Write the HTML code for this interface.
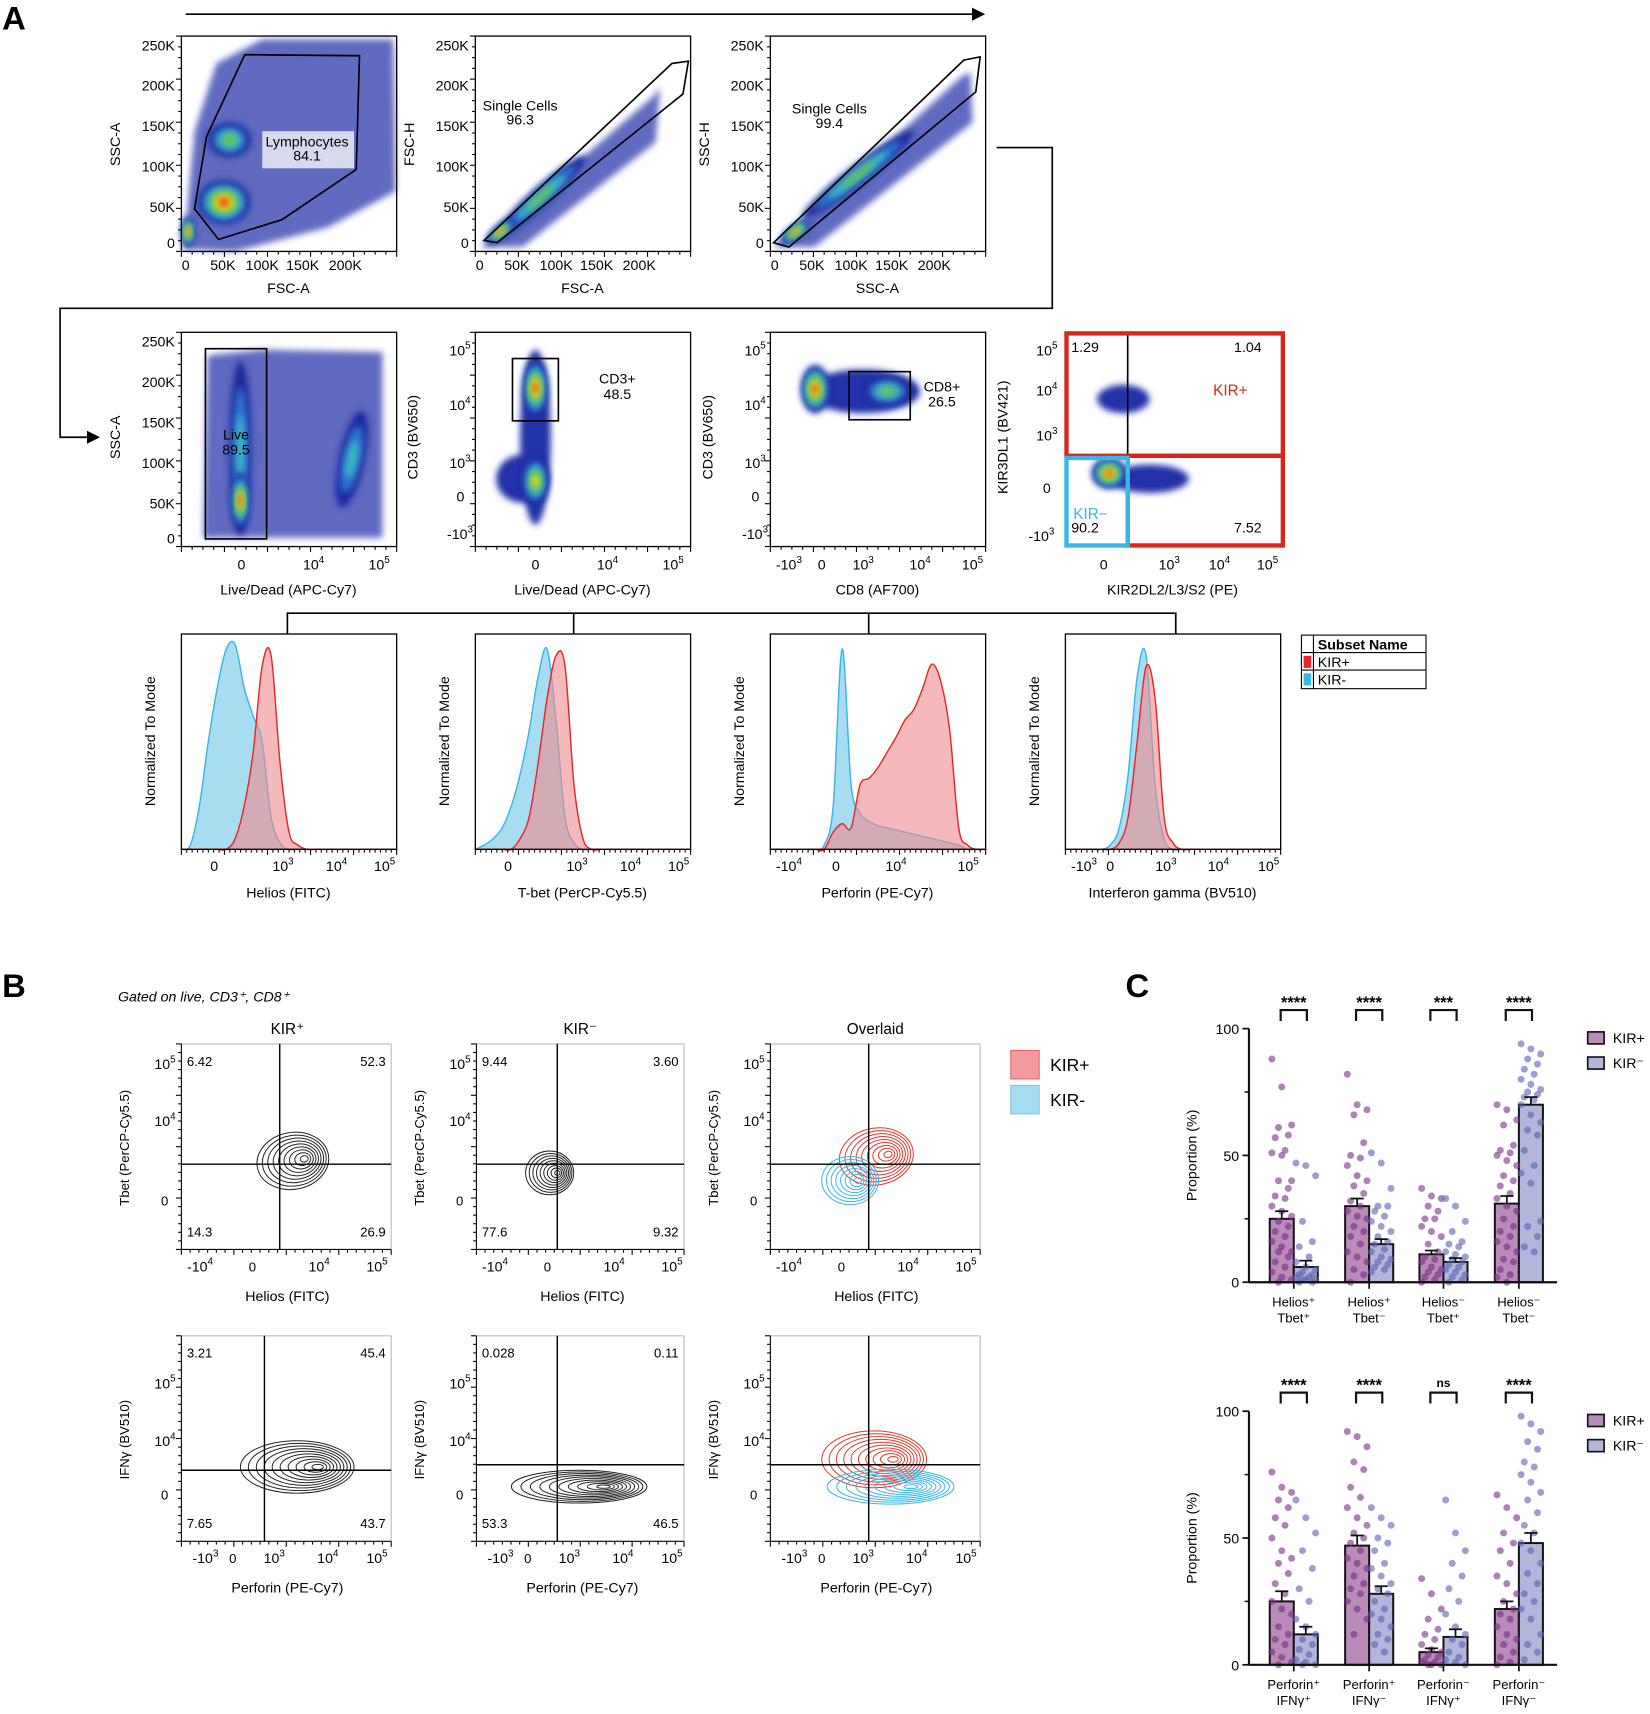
<!DOCTYPE html>
<html><head><meta charset="utf-8"><style>
html,body{margin:0;padding:0;background:#fff}
svg{display:block;font-family:"Liberation Sans",Arial,sans-serif}
</style></head><body>
<svg id="fig" xmlns="http://www.w3.org/2000/svg" width="1650" height="1714" viewBox="0 0 1510 1568" preserveAspectRatio="none">
<defs>
<filter id="bl" x="-50%" y="-50%" width="200%" height="200%"><feGaussianBlur stdDeviation="3"/></filter>
<marker id="ah" markerWidth="8" markerHeight="8" refX="7" refY="4" orient="auto"><path d="M0,0 L8,4 L0,8 z" fill="#000"/></marker>
</defs>
<g>
<text x="2" y="27" font-size="30" font-weight="bold">A</text>
<line x1="170" y1="13" x2="900" y2="13" stroke="#000" stroke-width="1.5" marker-end="url(#ah)"/>
<polyline points="912,135 963,135 963,282 55,282 55,400 90,400" fill="none" stroke="#000" stroke-width="1.5" marker-end="url(#ah)"/>
<polyline points="263,580 263,561 1076,561 1076,580" fill="none" stroke="#000" stroke-width="1.5"/>
<line x1="525" y1="561" x2="525" y2="580" stroke="#000" stroke-width="1.5"/>
<line x1="795" y1="561" x2="795" y2="580" stroke="#000" stroke-width="1.5"/>
</g>
<g id="dyn"></g>
<g font-size="13">
<rect x="1191" y="581" width="114" height="49" fill="#fff" stroke="#000"/>
<line x1="1191" y1="597" x2="1305" y2="597" stroke="#000"/><line x1="1191" y1="613" x2="1305" y2="613" stroke="#000"/>
<line x1="1202" y1="581" x2="1202" y2="630" stroke="#000"/>
<text x="1206" y="594" font-weight="bold">Subset Name</text>
<rect x="1193" y="600" width="7" height="11" fill="#e8252a"/><text x="1206" y="610">KIR+</text>
<rect x="1193" y="616" width="7" height="11" fill="#38b6e8"/><text x="1206" y="626">KIR-</text>
</g>
<g>
<text x="2" y="912" font-size="30" font-weight="bold">B</text>
<text x="108" y="916" font-size="13" font-style="italic">Gated on live, CD3⁺, CD8⁺</text>
<text x="263" y="946" font-size="14" text-anchor="middle">KIR⁺</text>
<text x="531" y="946" font-size="14" text-anchor="middle">KIR⁻</text>
<text x="801" y="946" font-size="14" text-anchor="middle">Overlaid</text>
<g>
<rect x="925" y="961" width="26" height="26" fill="#f29a9d" stroke="#e8646a"/><text x="961" y="980" font-size="16">KIR+</text>
<rect x="925" y="993" width="26" height="26" fill="#a6dcef" stroke="#7cc8e6"/><text x="961" y="1012" font-size="16">KIR-</text>
</g>
</g>
<g>
<text x="1030" y="912" font-size="30" font-weight="bold">C</text>
</g>
</svg>
<script>
const NS='http://www.w3.org/2000/svg';
const root=document.getElementById('dyn');
function mk(tag,a,p){const e=document.createElementNS(NS,tag);for(const k in a)e.setAttribute(k,a[k]);(p||root).appendChild(e);return e;}
function txt(x,y,s,sz,anchor,p,rot){const t=mk('text',{x:x,y:y,'font-size':sz||13,'text-anchor':anchor||'middle'},p);if(rot)t.setAttribute('transform','rotate(-90 '+x+' '+y+')');t.textContent=s;return t;}
function sup(x,y,base,exp,p){const t=mk('text',{x:x,y:y,'font-size':13,'text-anchor':'middle'},p);t.textContent=base;const s=mk('tspan',{dy:-6,'font-size':9},t);s.textContent=exp;return t;}
const DCOL=['#1f2c9e','#2f72cc','#3ab8c4','#6cc24a','#f2e21c','#e8351c'];
function blob(p,cx,cy,rx,ry,rot,lv){for(let k=0;k<lv;k++){const f=1-k/(lv+0.3);mk('ellipse',{cx:cx,cy:cy,rx:rx*f,ry:ry*f,fill:DCOL[k],transform:'rotate('+rot+' '+cx+' '+cy+')',filter:'url(#bl)'},p);}}
function frame(x,y,w,h,p){const r=mk('rect',{x:x,y:y,width:w,height:h,fill:'none',stroke:'#000','stroke-width':1.2},p);
 for(let i=0;i<=20;i++){mk('line',{x1:x+i*w/20,y1:y+h,x2:x+i*w/20,y2:y+h+(i%4==0?5:3),stroke:'#000'},p);mk('line',{x1:x,y1:y+i*h/20,x2:x-(i%4==0?5:3),y2:y+i*h/20,stroke:'#000'},p);}}

const lin=['0','50K','100K','150K','200K'];const linY=['250K','200K','150K','100K','50K','0'];
function linAxes(x0,g,xl,yl){const xs=[4,38,74,111,150];lin.forEach((s,i)=>txt(x0+xs[i],247,s,13,'middle',g));
 const ys=[46,83,120,157,194,227];linY.forEach((s,i)=>txt(x0-6,ys[i],s,13,'end',g));
 txt(x0+98,268,xl,13,'middle',g);txt(x0-56,132,yl,13,'middle',g,true);}
let g1=mk('g',{});
mk('path',{d:'M168,228 L178,120 L198,58 L240,36 L360,36 L362,175 L300,208 L215,230 Z',fill:'#2233a8',opacity:0.72,filter:'url(#bl)'},g1);
blob(g1,210,128,20,16,0,4);blob(g1,205,185,24,20,0,6);blob(g1,172,212,6,14,0,6);
mk('rect',{x:240,y:120,width:84,height:34,fill:'#fff',opacity:0.75},g1);
mk('polygon',{points:'224,50 329,51 326,155 258,201 200,219 178,191 189,125',fill:'none',stroke:'#000','stroke-width':1.5},g1);
txt(281,134,'Lymphocytes',13,'middle',g1);txt(281,147,'84.1',13,'middle',g1);
frame(166,33,197,197,g1);linAxes(166,g1,'FSC-A','SSC-A');

let g2=mk('g',{});
mk('polygon',{points:'440,226 455,212 598,88 604,80 600,130 478,226',fill:'#2233a8',opacity:0.72,filter:'url(#bl)'},g2);
blob(g2,495,180,55,9,-42,4);blob(g2,458,212,16,6,-40,6);
mk('polygon',{points:'443,220 615,58 630,56 625,86 455,222',fill:'none',stroke:'#000','stroke-width':1.5},g2);
txt(476,101,'Single Cells',13,'middle',g2);txt(476,114,'96.3',13,'middle',g2);
frame(435,33,197,197,g2);linAxes(435,g2,'FSC-A','FSC-H');

let g3=mk('g',{});
mk('polygon',{points:'707,226 722,214 880,70 888,66 890,112 745,226',fill:'#2233a8',opacity:0.72,filter:'url(#bl)'},g3);
blob(g3,785,160,65,9,-38,4);blob(g3,728,212,16,6,-38,6);
mk('polygon',{points:'708,222 882,55 897,52 893,84 722,226',fill:'none',stroke:'#000','stroke-width':1.5},g3);
txt(759,104,'Single Cells',13,'middle',g3);txt(759,117,'99.4',13,'middle',g3);
frame(705,33,197,197,g3);linAxes(705,g3,'SSC-A','SSC-H');

let g4=mk('g',{});
mk('path',{d:'M186,492 L190,325 L240,320 L350,322 L350,492 Z',fill:'#2233a8',opacity:0.72,filter:'url(#bl)'},g4);
blob(g4,220,410,10,80,0,3);blob(g4,220,458,8,26,0,6);blob(g4,322,420,12,45,12,3);
mk('rect',{x:188,y:319,width:56,height:174,fill:'none',stroke:'#000','stroke-width':1.5},g4);
txt(216,402,'Live',13,'middle',g4);txt(216,416,'89.5',13,'middle',g4);
frame(166,304,197,196,g4);
[['250K',317],['200K',354],['150K',391],['100K',428],['50K',465],['0',497]].forEach(a=>txt(160,a[1],a[0],13,'end',g4));
txt(221,521,'0',13,'middle',g4);sup(287,521,'10','4',g4);sup(347,521,'10','5',g4);
txt(264,544,'Live/Dead (APC-Cy7)',13,'middle',g4);txt(110,400,'SSC-A',13,'middle',g4,true);

function logY(g,x){sup(x-14,325,'10','5',g);sup(x-14,375,'10','4',g);sup(x-14,428,'10','3',g);txt(x-10,459,'0',13,'end',g);sup(x-14,493,'-10','3',g);}
let g5=mk('g',{});
mk('ellipse',{cx:490,cy:400,rx:14,ry:80,fill:'#2233a8',filter:'url(#bl)'},g5);mk('ellipse',{cx:478,cy:438,rx:24,ry:22,fill:'#2233a8',filter:'url(#bl)'},g5);
blob(g5,490,355,11,26,0,6);blob(g5,490,440,12,22,0,5);
mk('rect',{x:469,y:328,width:42,height:57,fill:'none',stroke:'#000','stroke-width':1.5},g5);
txt(565,351,'CD3+',13,'middle',g5);txt(565,365,'48.5',13,'middle',g5);
frame(435,304,197,196,g5);logY(g5,435);
txt(490,521,'0',13,'middle',g5);sup(556,521,'10','4',g5);sup(616,521,'10','5',g5);
txt(533,544,'Live/Dead (APC-Cy7)',13,'middle',g5);txt(382,400,'CD3 (BV650)',13,'middle',g5,true);

let g6=mk('g',{});
mk('ellipse',{cx:790,cy:358,rx:52,ry:20,fill:'#2233a8',filter:'url(#bl)'},g6);
blob(g6,746,356,13,22,0,6);blob(g6,812,358,22,13,0,4);
mk('rect',{x:777,y:340,width:56,height:44,fill:'none',stroke:'#000','stroke-width':1.5},g6);
txt(862,358,'CD8+',13,'middle',g6);txt(862,372,'26.5',13,'middle',g6);
frame(705,304,197,196,g6);logY(g6,705);
sup(722,521,'-10','3',g6);txt(752,521,'0',13,'middle',g6);sup(790,521,'10','3',g6);sup(842,521,'10','4',g6);sup(890,521,'10','5',g6);
txt(803,544,'CD8 (AF700)',13,'middle',g6);txt(652,400,'CD3 (BV650)',13,'middle',g6,true);

let g7=mk('g',{});
mk('ellipse',{cx:1028,cy:365,rx:24,ry:13,fill:'#2233a8',filter:'url(#bl)'},g7);
mk('ellipse',{cx:1052,cy:438,rx:36,ry:13,fill:'#2233a8',filter:'url(#bl)'},g7);
blob(g7,1015,433,16,14,0,6);
mk('line',{x1:1032,y1:304,x2:1032,y2:500,stroke:'#000','stroke-width':1.5},g7);mk('line',{x1:975,y1:417,x2:1175,y2:417,stroke:'#000','stroke-width':1.5},g7);
let q1=mk('rect',{x:976,y:305,width:198,height:112,fill:'none',stroke:'#d8261c','stroke-width':4},g7);
mk('rect',{x:1032,y:417,width:142,height:82,fill:'none',stroke:'#d8261c','stroke-width':4},g7);
let q2=mk('rect',{x:976,y:419,width:56,height:80,fill:'none',stroke:'#38b6e8','stroke-width':4},g7);
txt(993,322,'1.29',13,'middle',g7);txt(1142,322,'1.04',13,'middle',g7);txt(1142,487,'7.52',13,'middle',g7);txt(993,487,'90.2',13,'middle',g7);
let kp=txt(1126,362,'KIR+',14,'middle',g7);kp.setAttribute('fill','#d8261c');let km=txt(998,475,'KIR−',14,'middle',g7);km.setAttribute('fill','#38b6e8');
sup(958,325,'10','5',g7);sup(958,362,'10','4',g7);sup(958,403,'10','3',g7);txt(958,451,'0',13,'middle',g7);sup(953,495,'-10','3',g7);
txt(1010,521,'0',13,'middle',g7);sup(1070,521,'10','3',g7);sup(1116,521,'10','4',g7);sup(1160,521,'10','5',g7);
txt(1073,544,'KIR2DL2/L3/S2 (PE)',13,'middle',g7);txt(922,400,'KIR3DL1 (BV421)',13,'middle',g7,true);

const heliosPlus=[0,0,0,0,0,0,0.05,0.2,0.45,0.85,0.9,0.4,0.08,0.02,0,0,0,0,0,0,0,0,0,0,0];
const heliosMinus=[0,0.02,0.2,0.5,0.75,0.93,0.95,0.75,0.62,0.5,0.15,0.03,0,0,0,0,0,0,0,0,0,0,0,0,0];
const tbetPlus=[0,0,0,0,0,0.05,0.15,0.4,0.7,0.9,0.85,0.3,0.05,0,0,0,0,0,0,0,0,0,0,0,0];
const tbetMinus=[0,0.02,0.05,0.1,0.2,0.35,0.55,0.8,0.93,0.6,0.15,0.03,0,0,0,0,0,0,0,0,0,0,0,0,0];
const perfPlus=[0,0,0,0,0,0,0,0.08,0.12,0.1,0.3,0.33,0.38,0.45,0.52,0.6,0.65,0.75,0.86,0.78,0.55,0.1,0.02,0,0];
const perfMinus=[0,0,0,0,0,0,0.02,0.2,0.93,0.3,0.17,0.13,0.11,0.1,0.09,0.08,0.07,0.06,0.05,0.04,0.03,0.02,0,0,0];
const ifnPlus=[0,0,0,0,0,0,0.03,0.15,0.5,0.85,0.7,0.15,0.03,0,0,0,0,0,0,0,0,0,0,0,0];
const ifnMinus=[0,0,0,0,0,0.02,0.1,0.35,0.8,0.9,0.3,0.05,0,0,0,0,0,0,0,0,0,0,0,0,0];
function histPath(x0,y0,w,h,arr){let d='M'+x0+','+(y0+h);const n=arr.length-1;const pts=arr.map((v,i)=>[x0+i*w/n,y0+h-v*h]);
 for(let i=0;i<pts.length;i++){const p0=pts[Math.max(0,i-1)],p1=pts[i],p2=pts[Math.min(n,i+1)];if(i==0){d+=' L'+p1[0]+','+p1[1];continue;}
 const pm=pts[Math.max(0,i-2)];const c1=[p0[0]+(p1[0]-pm[0])/6,p0[1]+(p1[1]-pm[1])/6],c2=[p1[0]-(p2[0]-p0[0])/6,p1[1]-(p2[1]-p0[1])/6];d+=' C'+c1+' '+c2+' '+p1;}
 return d+' L'+(x0+w)+','+(y0+h)+' Z';}
function hist(x0,name,plus,minus,xlab,ticks){const g=mk('g',{});
 const y0=580,w=197,h=197;
 const b=mk('path',{d:histPath(x0,y0,w,h,minus),fill:'#9fd8ef',stroke:'#38b6e8','stroke-width':1.3,'fill-opacity':0.9},g);
 const r=mk('path',{d:histPath(x0,y0,w,h,plus),fill:'#f08a8e',stroke:'#e8252a','stroke-width':1.3,'fill-opacity':0.6},g);
 mk('rect',{x:x0,y:y0,width:w,height:h,fill:'none',stroke:'#000','stroke-width':1.2},g);
 for(let i=0;i<=40;i++)mk('line',{x1:x0+i*w/40,y1:y0+h,x2:x0+i*w/40,y2:y0+h+(i%8==0?5:3),stroke:'#000'},g);
 ticks.forEach(t=>{if(t[2])sup(x0+t[0],797,t[1],t[2],g);else txt(x0+t[0],797,t[1],13,'middle',g);});
 txt(x0+98,821,xlab,13,'middle',g);txt(x0-24,678,'Normalized To Mode',13,'middle',g,true);}
hist(166,'helios-histogram',heliosPlus,heliosMinus,'Helios (FITC)',[[30,'0'],[93,'10','3'],[142,'10','4'],[186,'10','5']]);
hist(435,'tbet-histogram',tbetPlus,tbetMinus,'T-bet (PerCP-Cy5.5)',[[30,'0'],[93,'10','3'],[142,'10','4'],[186,'10','5']]);
hist(705,'perforin-histogram',perfPlus,perfMinus,'Perforin (PE-Cy7)',[[17,'-10','4'],[60,'0'],[115,'10','4'],[181,'10','5']]);
hist(975,'ifng-histogram',ifnPlus,ifnMinus,'Interferon gamma (BV510)',[[17,'-10','3'],[41,'0'],[92,'10','3'],[140,'10','4'],[186,'10','5']]);

function contours(g,cx,cy,rx,ry,n,col,rot){for(let k=0;k<n;k++){const f=1-k/n;mk('ellipse',{cx:cx+k*rx*0.04,cy:cy,rx:rx*f,ry:ry*f,fill:'none',stroke:col,'stroke-width':0.9,transform:'rotate('+rot+' '+cx+' '+cy+')'},g);}}
function cplot(x0,y0,name,qx,qy,nums,cs,top){const g=mk('g',{});
 cs.forEach(c=>contours(g,c[0],c[1],c[2],c[3],c[4],c[5],c[6]||0));
 const w=(x0>400&&x0<600?190:192),h=188;
 mk('line',{x1:x0,y1:y0,x2:x0+w,y2:y0,stroke:'#bbb'},g);mk('line',{x1:x0+w,y1:y0,x2:x0+w,y2:y0+h,stroke:'#bbb'},g);
 mk('line',{x1:x0,y1:y0,x2:x0,y2:y0+h,stroke:'#000'},g);mk('line',{x1:x0,y1:y0+h,x2:x0+w,y2:y0+h,stroke:'#000'},g);
 for(let i=0;i<=24;i++){mk('line',{x1:x0+i*w/24,y1:y0+h,x2:x0+i*w/24,y2:y0+h+(i%6==0?5:3),stroke:'#000'},g);mk('line',{x1:x0,y1:y0+i*h/24,x2:x0-(i%6==0?5:3),y2:y0+i*h/24,stroke:'#000'},g);}
 mk('line',{x1:qx,y1:y0,x2:qx,y2:y0+h,stroke:'#000','stroke-width':1.3},g);mk('line',{x1:x0,y1:qy,x2:x0+w,y2:qy,stroke:'#000','stroke-width':1.3},g);
 txt(x0+5,y0+20,nums[0],12,'start',g);txt(x0+w-5,y0+20,nums[1],12,'end',g);txt(x0+5,y0+h-12,nums[2],12,'start',g);txt(x0+w-5,y0+h-12,nums[3],12,'end',g);
 if(top){sup(x0-15,y0+23,'10','5',g);sup(x0-15,y0+75,'10','4',g);txt(x0-12,y0+148,'0',12,'end',g);
  sup(x0+17,y0+208,'-10','4',g);txt(x0+65,y0+208,'0',12,'middle',g);sup(x0+126,y0+208,'10','4',g);sup(x0+179,y0+208,'10','5',g);
  txt(x0+97,y0+235,'Helios (FITC)',13,'middle',g);txt(x0-48,y0+95,'Tbet (PerCP-Cy5.5)',12,'middle',g,true);}
 else{sup(x0-15,y0+48,'10','5',g);sup(x0-15,y0+101,'10','4',g);txt(x0-12,y0+150,'0',12,'end',g);
  sup(x0+22,y0+208,'-10','3',g);txt(x0+47,y0+208,'0',12,'middle',g);sup(x0+85,y0+208,'10','3',g);sup(x0+134,y0+208,'10','4',g);sup(x0+179,y0+208,'10','5',g);
  txt(x0+97,y0+235,'Perforin (PE-Cy7)',13,'middle',g);txt(x0-48,y0+95,'IFNγ (BV510)',12,'middle',g,true);}}
cplot(166,955,'kir-plus-helios-tbet',256,1065,['6.42','52.3','14.3','26.9'],[[268,1062,33,26,9,'#222',-10]],true);
cplot(436,955,'kir-minus-helios-tbet',510,1065,['9.44','3.60','77.6','9.32'],[[503,1073,22,20,9,'#222',0]],true);
cplot(705,955,'overlay-helios-tbet',795,1065,['','','',''],[[802,1058,34,26,9,'#e8352a',-10],[778,1080,26,22,8,'#38b6e8',0]],true);
cplot(166,1222,'kir-plus-perforin-ifng',242,1345,['3.21','45.4','7.65','43.7'],[[272,1342,52,24,10,'#222',0]],false);
cplot(436,1222,'kir-minus-perforin-ifng',510,1340,['0.028','0.11','53.3','46.5'],[[530,1360,62,15,10,'#222',0]],false);
cplot(705,1222,'overlay-perforin-ifng',795,1340,['','','',''],[[800,1335,48,26,10,'#e8352a',0],[815,1360,58,16,9,'#38b6e8',0]],false);

const groups1=['Helios⁺|Tbet⁺','Helios⁺|Tbet⁻','Helios⁻|Tbet⁺','Helios⁻|Tbet⁻'];
const kirPlusMean1=[25,30,11,31];const kirMinusMean1=[6,15,8,70];
const kirPlusErr1=[3,3,1.5,3];const kirMinusErr1=[2.5,2,1.5,3];
const sig1=['****','****','***','****'];
const kirPlusPts1=[[88,77,62,61,58,57,52,51,50,40,40,37,34,33,30,28,26,24,22,20,18,16,14,12,12,10,8,6,4,2,1,0],[82,70,68,66,55,50,49,46,42,40,38,35,32,30,28,26,25,22,20,18,15,12,10,8,5,3,0],[37,34,33,30,28,25,25,22,20,18,15,12,10,9,8,6,5,4,3,2,1,0],[70,68,64,62,54,52,51,50,48,46,42,40,38,35,33,30,28,25,22,20,18,16,14,12,9,8,5,3,2,0]];
const kirMinusPts1=[[47,46,42,24,16,14,10,8,6,5,4,3,3,2,2,1,1,1,0,0],[51,47,37,30,30,28,26,24,22,20,18,16,15,13,12,10,9,8,7,6,5,4],[33,30,24,20,16,15,14,12,11,10,9,8,7,6,5,4,3,2,1,0],[94,92,90,88,86,84,82,80,78,76,75,74,73,72,70,66,63,60,58,52,46,43,39,24,22,18,14,12]];
const groups2=['Perforin⁺|IFNγ⁺','Perforin⁺|IFNγ⁻','Perforin⁻|IFNγ⁺','Perforin⁻|IFNγ⁻'];
const kirPlusMean2=[25,47,5,22];const kirMinusMean2=[12,28,11,48];
const kirPlusErr2=[4,4,1.5,3];const kirMinusErr2=[3,3,3,4];
const sig2=['****','****','ns','****'];
const kirPlusPts2=[[76,70,68,65,62,58,55,50,45,42,40,36,32,28,25,22,20,15,12,10,8,5,3,1,0],[92,90,86,80,77,70,66,62,58,55,52,50,48,45,42,40,38,35,32,30,28,25,22,18,12],[34,28,22,18,14,12,10,8,6,5,4,3,2,1,1,0,0,0],[67,62,58,52,48,45,40,35,32,28,25,22,20,18,15,12,10,8,5,3,1,0]];
const kirMinusPts2=[[65,58,52,45,38,30,25,18,15,12,10,8,6,4,2,1,0,0],[62,58,55,50,48,45,40,38,35,32,30,28,25,22,20,18,15,12,10,8,5],[65,52,45,40,35,30,25,20,15,12,10,8,5,3,2,1,0],[98,95,92,88,85,80,78,75,72,68,65,60,55,52,48,45,40,36,32,28,25,22,18,12,8,5,2]];
const yTicks=[0,50,100];
function barChart(yTop,yBot,groups,pm,mm,pe,me,pp,mp,sig,nm){const g=mk('g',{});
 const xA=1143,xEnd=1425,cx=[1184,1253,1321,1390],bw=22;
 const Y=v=>yBot-(v/100)*(yBot-yTop);
 for(let i=0;i<groups.length;i++){
  const bp=mk('rect',{x:cx[i]-bw,y:Y(pm[i]),width:bw,height:yBot-Y(pm[i]),fill:'#b98bb9',stroke:'#111','stroke-width':1.8},g);
  const bm=mk('rect',{x:cx[i],y:Y(mm[i]),width:bw,height:yBot-Y(mm[i]),fill:'#b3b6da',stroke:'#111','stroke-width':1.8},g);
  pp[i].forEach((v,j)=>{const c=mk('circle',{cx:cx[i]-bw/2+(((j*3)%7)-3)*3,cy:Y(v),r:3.2,fill:'#7a2f84','fill-opacity':0.6},g);});
  mp[i].forEach((v,j)=>{const c=mk('circle',{cx:cx[i]+bw/2+(((j*3)%7)-3)*3,cy:Y(v),r:3.2,fill:'#5a60b0','fill-opacity':0.6},g);});
  [[cx[i]-bw/2,pm[i],pe[i]],[cx[i]+bw/2,mm[i],me[i]]].forEach(e=>{mk('line',{x1:e[0],y1:Y(e[1]),x2:e[0],y2:Y(e[1]+e[2]),stroke:'#111','stroke-width':1.6},g);mk('line',{x1:e[0]-6,y1:Y(e[1]+e[2]),x2:e[0]+6,y2:Y(e[1]+e[2]),stroke:'#111','stroke-width':1.6},g);});
  mk('polyline',{points:(cx[i]-12)+','+(yTop-7)+' '+(cx[i]-12)+','+(yTop-17)+' '+(cx[i]+12)+','+(yTop-17)+' '+(cx[i]+12)+','+(yTop-7),fill:'none',stroke:'#111','stroke-width':2},g);
  const s=txt(cx[i],yTop-(sig[i]=='ns'?22:19),sig[i],sig[i]=='ns'?11:15,'middle',g);s.setAttribute('font-weight','bold');
  mk('line',{x1:cx[i],y1:yBot,x2:cx[i],y2:yBot+6,stroke:'#111','stroke-width':1.6},g);
  const parts=groups[i].split('|');txt(cx[i],yBot+22,parts[0],12,'middle',g);txt(cx[i],yBot+37,parts[1],12,'middle',g);}
 mk('line',{x1:xA,y1:yTop,x2:xA,y2:yBot,stroke:'#111','stroke-width':2},g);mk('line',{x1:xA,y1:yBot,x2:xEnd,y2:yBot,stroke:'#111','stroke-width':2},g);
 yTicks.forEach(t=>{mk('line',{x1:xA-6,y1:Y(t),x2:xA,y2:Y(t),stroke:'#111','stroke-width':1.6},g);txt(xA-9,Y(t)+5,String(t),13,'end',g);});
 [25,75].forEach(t=>mk('line',{x1:xA-4,y1:Y(t),x2:xA,y2:Y(t),stroke:'#111','stroke-width':1.4},g));
 txt(1095,(yTop+yBot)/2,'Proportion (%)',13,'middle',g,true);
 const lg=mk('g',{},g);
 mk('rect',{x:1453,y:yTop+3,width:15,height:11,fill:'#b98bb9',stroke:'#111','stroke-width':1.5},lg);txt(1476,yTop+13,'KIR+',13,'start',lg);
 mk('rect',{x:1453,y:yTop+26,width:15,height:11,fill:'#b3b6da',stroke:'#111','stroke-width':1.5},lg);txt(1476,yTop+36,'KIR⁻',13,'start',lg);}
barChart(941,1173,groups1,kirPlusMean1,kirMinusMean1,kirPlusErr1,kirMinusErr1,kirPlusPts1,kirMinusPts1,sig1,'chart-helios-tbet');
barChart(1291,1523,groups2,kirPlusMean2,kirMinusMean2,kirPlusErr2,kirMinusErr2,kirPlusPts2,kirMinusPts2,sig2,'chart-perforin-ifng');
</script>
</body></html>
